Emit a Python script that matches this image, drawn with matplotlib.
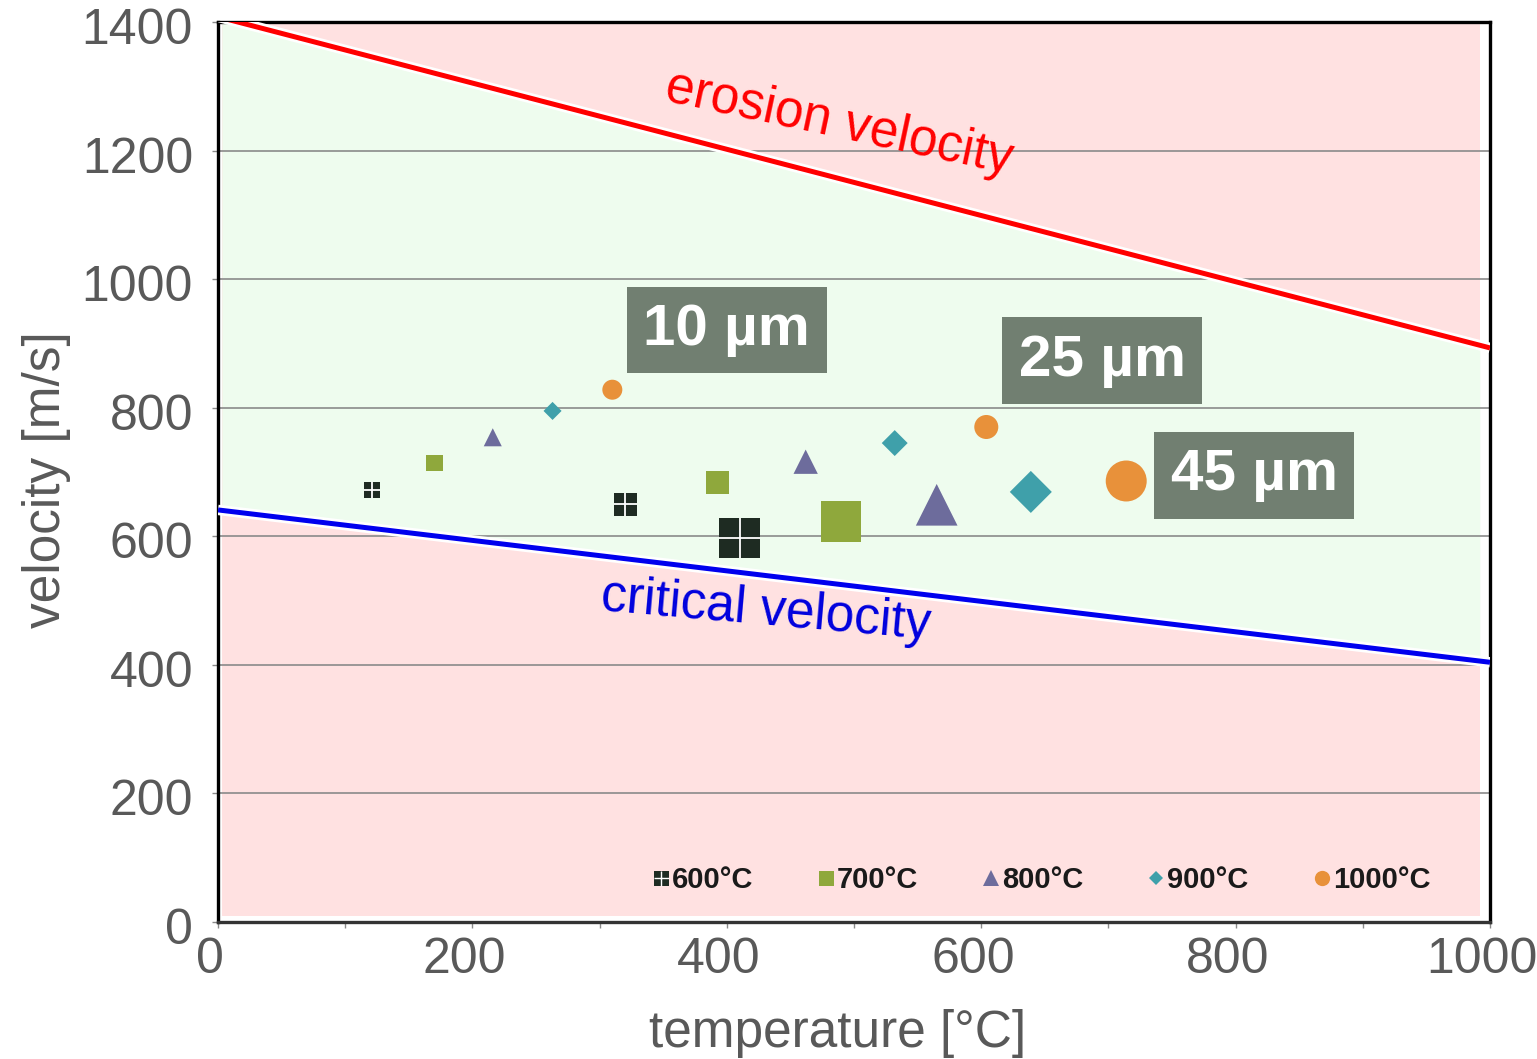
#!/usr/bin/env python3

import matplotlib
matplotlib.use("Agg")
import matplotlib.pyplot as plt
import matplotlib.patheffects as pe
from matplotlib.lines import Line2D
from matplotlib.legend_handler import HandlerTuple
from matplotlib.transforms import ScaledTranslation
import numpy as np

plt.rcParams["font.family"] = ["Liberation Sans", "DejaVu Sans"]

# spray temperatures (series) and particle sizes
temps = ["600°C", "700°C", "800°C", "900°C", "1000°C"]
sizes = ["10 µm", "25 µm", "45 µm"]

# particle temperature [°C] per series, ordered 10 / 25 / 45 µm
temp_600 = [121, 320, 410]
temp_700 = [170, 393, 490]
temp_800 = [216, 462, 565]
temp_900 = [263, 532, 639]
temp_1000 = [310, 604, 714]

# impact velocity [m/s]
vel_600 = [672, 650, 597]
vel_700 = [714, 684, 623]
vel_800 = [754, 716, 649]
vel_900 = [795, 745, 669]
vel_1000 = [828, 770, 686]

# window of deposition: straight lines between two end points
line_t = [0, 1000]
erosion_v = [1408, 893]
critical_v = [641, 404]

colors = ["#1e2b22", "#8fa83c", "#6d6c9c", "#3fa0aa", "#e8913a"]
markers = ["s", "s", "^", "D", "o"]
# marker size (pt) for 10/25/45 µm, per marker shape
msizes = {
    "s": [12, 16.6, 29],
    "^": [13, 17.5, 30],
    "D": [9.2, 13.2, 21.4],
    "o": [14.4, 17.3, 29.5],
}

fig = plt.figure(figsize=(15.37, 10.59), dpi=100)
ax = fig.add_axes([0.14184, 0.12937, 0.82759, 0.84986])

# background zones
t_fill = np.array([3, 992])
ero = np.interp(t_fill, line_t, erosion_v)
cri = np.interp(t_fill, line_t, critical_v)
ax.fill_between(t_fill, 10, 1397, color="#ffe1e1", lw=0, zorder=0)
ax.fill_between(t_fill, cri, ero, color="#eefcee", lw=0, zorder=0.2)

halo = [pe.Stroke(linewidth=7.5, foreground="white"), pe.Normal()]
ax.plot(line_t, erosion_v, color="#ff0000", lw=3.6, zorder=3,
        path_effects=halo, solid_capstyle="butt")
ax.plot(line_t, critical_v, color="#0000ee", lw=3.6, zorder=3,
        path_effects=halo, solid_capstyle="butt")

ax.text(488, 1241, "erosion velocity", color="#ff0000", fontsize=37,
        rotation=-12, ha="center", va="center", rotation_mode="anchor")
ax.text(431, 484, "critical velocity", color="#0000dd", fontsize=37,
        rotation=-5, ha="center", va="center", rotation_mode="anchor")

all_t = [temp_600, temp_700, temp_800, temp_900, temp_1000]
all_v = [vel_600, vel_700, vel_800, vel_900, vel_1000]

for i in range(len(temps)):
    m = markers[i]
    s = np.array(msizes[m]) ** 2
    ax.scatter(all_t[i], all_v[i], s=s, marker=m, color=colors[i],
               linewidths=0, zorder=4)
    if i == 0:
        ax.scatter(all_t[i], all_v[i], s=s, marker="+", color="white",
                   linewidths=1.3, zorder=5)

# particle size labels
box = dict(boxstyle="square,pad=0.28", fc="#717f71", ec="none")
label_pos = [(400, 921), (695, 873), (814.5, 695)]
for lab, (tx, ty) in zip(sizes, label_pos):
    ax.text(tx, ty, lab, color="white", fontsize=42, fontweight="bold",
            ha="center", va="center", bbox=box, zorder=6)

ax.set_xlim(0, 1000)
ax.set_ylim(0, 1400)
ax.set_xticks(range(0, 1001, 200))
ax.set_xticks(range(0, 1001, 100), minor=True)
ax.set_yticks(range(0, 1401, 200))
ax.set_axisbelow("line")
ax.grid(axis="y", color="#8a8a8a", lw=1.2)

ax.tick_params(axis="both", which="both", colors="#8a8a8a", length=4,
               width=1, labelcolor="#595959", labelsize=36)
ax.tick_params(axis="y", pad=14)
ax.tick_params(axis="x", pad=6.5)
for lbl in ax.get_xticklabels():
    lbl.set_transform(lbl.get_transform() +
                      ScaledTranslation(-8 / 100, 0, fig.dpi_scale_trans))
for lbl in ax.get_yticklabels():
    lbl.set_transform(lbl.get_transform() +
                      ScaledTranslation(0, -4 / 100, fig.dpi_scale_trans))

for sp in ax.spines.values():
    sp.set_linewidth(2.4)
    sp.set_color("black")
ax.spines["bottom"].set_color("#333333")

ax.set_xlabel("temperature [°C]", fontsize=37, color="#595959", labelpad=19)
ax.set_ylabel("velocity [m/s]", fontsize=37, color="#595959", labelpad=8)
ax.xaxis.label.set_x(0.487)
ax.yaxis.label.set_y(0.491)

# legend with small proxy markers
leg_ms = {"s": 10.8, "^": 11.5, "D": 7, "o": 11}
handles = []
for i in range(len(temps)):
    m = markers[i]
    h = Line2D([], [], ls="none", marker=m, ms=leg_ms[m], color=colors[i],
               mew=0)
    if i == 0:
        cross = Line2D([], [], ls="none", marker="+", ms=leg_ms[m],
                       color="white", mew=1)
        h = (h, cross)
    handles.append(h)

leg = ax.legend(handles, temps, ncol=5, loc="center",
                bbox_to_anchor=(0.647, 0.0467), frameon=False,
                handlelength=0.6, handletextpad=0.08, columnspacing=2.2,
                handler_map={tuple: HandlerTuple(ndivide=1)},
                prop={"weight": "bold", "size": 21})
for t in leg.get_texts():
    t.set_color("#1a1a1a")

fig.savefig("out.png", dpi=100)
